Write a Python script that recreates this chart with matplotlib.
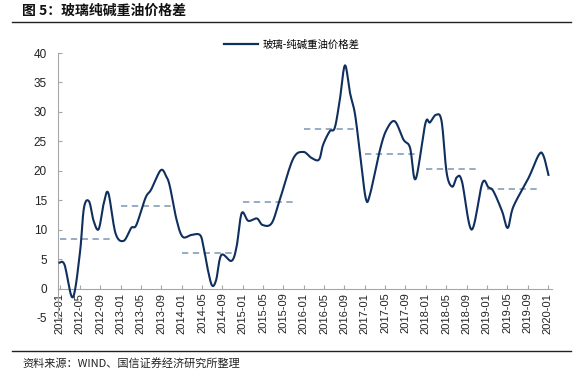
import matplotlib
matplotlib.use("Agg")
import matplotlib.pyplot as plt
from matplotlib.lines import Line2D
import numpy as np

plt.rcParams['font.family'] = ['Liberation Sans', 'Noto Sans CJK SC', 'DejaVu Sans']
plt.rcParams['axes.unicode_minus'] = False

# monthly spread (month index from 2012-01) and value
months = [0, 1, 2.6, 4, 4.8, 5.8, 6.7, 7.7, 8.7, 9.6, 11, 12.6, 14.1, 15.1, 16.9, 18, 19.9,
          21, 21.7, 23, 24.2, 25.9, 27.6, 28.3, 29.2, 30, 30.8, 31.8, 33.8, 34.8, 35.8, 37.1,
          38.8, 39.9, 41.7, 43.3, 45.9, 47.9, 49.5, 51, 51.8, 53.1, 54.1, 55.1, 56.1, 57.1,
          58.1, 59.2, 60.2, 61, 63, 64.3, 65.9, 67.6, 68.9, 70, 71.9, 72.8, 74, 75.1, 76.1,
          77.2, 78.1, 79.1, 81, 83.1, 84.3, 85.3, 87, 88.1, 89.2, 92.2, 94.2, 95.1, 96.1]
values = [4.4, 4.0, -1.5, 6.0, 13.7, 14.8, 11.5, 10.1, 14.5, 16.2, 9.4, 8.1, 10.3, 10.8, 15.4, 16.8, 20.1,
          19.0, 17.3, 11.7, 8.8, 9.1, 9.1, 7.1, 3.0, 0.5, 1.5, 5.7, 4.7, 7.1, 12.8, 11.5,
          11.9, 10.8, 11.1, 15.1, 22.0, 23.2, 22.2, 21.9, 24.4, 26.7, 27.3, 32.1, 37.9, 33.2,
          29.5, 21.9, 15.3, 15.9, 23.6, 27.0, 28.4, 25.3, 23.9, 18.6, 28.0, 28.2, 29.5, 28.4, 19.6,
          17.3, 18.9, 18.2, 10.0, 17.9, 17.2, 16.5, 13.1, 10.3, 13.9, 18.8, 22.7, 22.6, 19.3]

years = [2012, 2013, 2014, 2015, 2016, 2017, 2018, 2019]
year_avg = [8.45, 13.95, 6.1, 14.75, 27.1, 22.9, 20.35, 16.9]

tick_labels = [f"{y}-{m:02d}" for y in range(2012, 2021) for m in (1, 5, 9)][:25]
tick_pos = list(range(0, 97, 4))

line_color = '#0F2F5F'
dash_color = '#8FA6BE'

fig = plt.figure(figsize=(5.81, 3.81), dpi=100)
W, H = 581, 381
ax = fig.add_axes([58 / W, 1 - 318 / H, (552 - 58) / W, (318 - 53) / H])

for sp in ['top', 'right']:
    ax.spines[sp].set_visible(False)
ax.spines['bottom'].set_position(('data', 0))
ax.spines['bottom'].set_color('#A6A6A6')
ax.spines['left'].set_color('#A6A6A6')

# smooth rendering of the line (Catmull-Rom style drawing between read points)
x = np.array(months, float)
y = np.array(values, float)
xs, ys = [], []
for i in range(len(x) - 1):
    p0 = (x[i - 1], y[i - 1]) if i > 0 else (x[i], y[i])
    p1 = (x[i], y[i])
    p2 = (x[i + 1], y[i + 1])
    p3 = (x[i + 2], y[i + 2]) if i + 2 < len(x) else (x[i + 1], y[i + 1])
    t = np.linspace(0, 1, 12, endpoint=False)
    for k in range(2):
        a0, a1, a2, a3 = p0[k], p1[k], p2[k], p3[k]
        c = 0.5 * ((2 * a1) + (-a0 + a2) * t + (2 * a0 - 5 * a1 + 4 * a2 - a3) * t ** 2
                   + (-a0 + 3 * a1 - 3 * a2 + a3) * t ** 3)
        (xs if k == 0 else ys).extend(c)
xs.append(x[-1]); ys.append(y[-1])
ax.plot(xs, ys, color=line_color, lw=1.5, solid_joinstyle='round', zorder=3)

for yr, avg in zip(years, year_avg):
    s = (yr - 2012) * 12
    ax.plot([s, s + 10.6], [avg, avg], color=dash_color, lw=1.3,
            dashes=(3.5, 2.5), zorder=2)

ax.set_xlim(-0.3, 96.8)
ax.set_ylim(-5, 40)
ax.set_yticks(range(-5, 41, 5))
ax.set_xticks(tick_pos)
ax.set_xticklabels(tick_labels, rotation=90, fontsize=8, color='#222222')
ax.tick_params(axis='y', labelsize=8.5, labelcolor='#222222', direction='in', length=3, width=0.8, pad=8)
ax.tick_params(axis='x', direction='in', length=3, width=0.8, pad=3)
ax.tick_params(axis='both', color='#A6A6A6')

# legend
leg = ax.legend([Line2D([], [], color=line_color, lw=1.6)], ['玻璃-纯碱重油价格差'],
                loc='center', bbox_to_anchor=(292 / W, 1 - 45 / H), bbox_transform=fig.transFigure,
                frameon=False, prop={'family': ['Noto Sans CJK SC'], 'size': 7.5},
                handlelength=3.2, handletextpad=0.5, borderaxespad=0)

# title and source
fig.text(22 / W, 1 - 11 / H, '图 5：玻璃纯碱重油价格差', fontsize=10, fontweight='bold',
         family=['Noto Sans CJK SC'], va='center', ha='left', color='#111111')
fig.add_artist(Line2D([12 / W, 571 / W], [1 - 22 / H, 1 - 22 / H], color='#222222', lw=1.0))
fig.add_artist(Line2D([12 / W, 571 / W], [1 - 350.5 / H, 1 - 350.5 / H], color='#222222', lw=1.0))
fig.text(22 / W, 1 - 363 / H, '资料来源：WIND、国信证券经济研究所整理', fontsize=8,
         family=['Noto Sans CJK SC'], va='center', ha='left', color='#222222')

fig.savefig('out.png', dpi=100)
